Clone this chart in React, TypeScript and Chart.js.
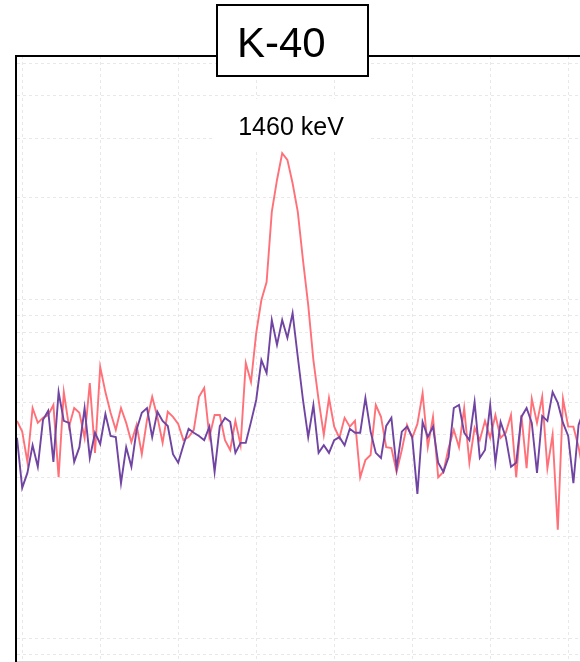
import React, { useEffect, useRef } from 'react';
import { Chart, registerables } from 'chart.js';

Chart.register(...registerables);

// Channel index (x) for each sample
const CHANNELS: number[] = Array.from({ length: 110 }, (_, i) => i);

// Spectrum A (red) – counts per channel
const RED: number[] = [
  44.0, 40.9, 33.3, 48.0, 43.4, 44.9, 45.8, 49.0, 30.0, 53.5,
  42.3, 48.0, 46.5, 39.2, 56.9, 35.4, 63.5, 53.5, 46.5, 41.4,
  48.0, 43.4, 38.1, 42.8, 35.1, 44.3, 51.8, 45.2, 37.9, 46.8,
  45.2, 43.1, 38.6, 39.4, 41.4, 51.8, 55.0, 39.4, 45.8, 45.8,
  38.6, 36.1, 44.0, 37.3, 65.2, 57.3, 79.9, 100, 113, 182,
  226, 271, 259, 221, 182, 131, 96.7, 66.5, 50.7, 40.0,
  51.4, 42.3, 39.2, 44.9, 42.3, 44.0, 30.0, 33.7, 34.9, 49.0,
  45.2, 36.8, 36.6, 31.1, 36.1, 42.8, 39.2, 43.1, 53.1, 36.8,
  45.2, 30.0, 31.1, 36.6, 41.4, 36.8, 48.0, 33.1, 42.0, 38.6,
  44.0, 39.2, 45.8, 39.2, 40.6, 45.8, 30.0, 45.8, 31.9, 51.1,
  43.4, 51.8, 31.9, 40.0, 21.0, 51.1, 42.3, 42.3, 36.8, 30.4,
];

// Spectrum B (purple) – counts per channel
const PURPLE: number[] = [
  39.2, 27.9, 30.9, 37.3, 32.2, 44.3, 47.1, 33.3, 53.5, 44.0,
  43.4, 33.3, 36.8, 48.0, 34.2, 40.6, 37.6, 46.1, 39.7, 39.4,
  28.8, 36.8, 32.2, 41.4, 46.5, 48.0, 39.4, 46.8, 44.0, 42.5,
  35.1, 33.1, 37.3, 41.7, 40.6, 39.7, 38.6, 42.3, 31.1, 42.5,
  44.9, 43.7, 35.4, 37.9, 37.9, 43.7, 50.7, 66.5, 60.9, 87.3,
  73.7, 87.3, 77.3, 91.5, 67.9, 50.7, 39.4, 49.0, 35.4, 37.3,
  35.4, 38.6, 39.4, 37.3, 41.7, 40.6, 40.6, 51.4, 40.9, 35.4,
  34.2, 42.5, 44.9, 31.9, 40.9, 42.3, 39.4, 26.8, 43.7, 39.4,
  42.3, 33.1, 31.1, 34.4, 48.0, 49.0, 40.6, 38.6, 50.0, 34.2,
  36.1, 49.0, 33.1, 43.7, 39.4, 32.2, 33.1, 45.2, 48.0, 43.4,
  30.9, 45.5, 44.0, 53.5, 49.7, 43.4, 39.7, 28.8, 42.8, 47.4,
];

const Y_GRID: number[] = [9, 10, 20, 30, 40, 50, 60, 70, 80, 90, 100, 200, 300, 400, 500];
const X_GRID: number[] = [1, 16, 31, 46, 61, 76, 91, 106];

const TITLE = 'K-40';
const PEAK_LABEL = '1460 keV';

const FONT = "'Liberation Sans', Arial, Helvetica, sans-serif";

const decorPlugin = {
  id: 'decor',
  afterDraw(chart: any) {
    const ctx = chart.ctx;
    const opts = chart.options.plugins.decor;
    ctx.save();
    // frame
    ctx.strokeStyle = '#000';
    ctx.lineWidth = 2;
    ctx.beginPath();
    ctx.moveTo(16, 662);
    ctx.lineTo(16, 56);
    ctx.lineTo(580, 56);
    ctx.stroke();
    // title box
    ctx.fillStyle = '#fff';
    ctx.fillRect(217, 5, 151, 71);
    ctx.strokeRect(217, 5, 151, 71);
    ctx.fillStyle = '#000';
    ctx.font = `42px ${FONT}`;
    ctx.textAlign = 'left';
    ctx.textBaseline = 'alphabetic';
    ctx.fillText(opts.title, 237, 57);
    // peak label
    ctx.fillStyle = '#fff';
    ctx.fillRect(215, 99, 153, 51);
    ctx.fillStyle = '#000';
    ctx.font = `25px ${FONT}`;
    ctx.textAlign = 'center';
    ctx.fillText(opts.label, 291, 135);
    ctx.restore();
  },
};

export default function App() {
  const ref = useRef<HTMLCanvasElement | null>(null);

  useEffect(() => {
    if (!ref.current) return;
    const gridColor = 'rgba(0,0,0,0.09)';
    const chart = new Chart(ref.current, {
      type: 'line',
      data: {
        labels: CHANNELS,
        datasets: [
          {
            label: 'B',
            data: PURPLE,
            borderColor: '#7044a2',
            borderWidth: 1.9,
            pointRadius: 0,
            tension: 0,
            fill: false,
          },
          {
            label: 'A',
            data: RED,
            borderColor: '#ff7078',
            borderWidth: 1.9,
            pointRadius: 0,
            tension: 0,
            fill: false,
          },
        ],
      },
      options: {
        responsive: false,
        animation: false,
        devicePixelRatio: 1,
        layout: { padding: { left: 17, top: 56, right: 0, bottom: 1 } },
        plugins: {
          legend: { display: false },
          tooltip: { enabled: false },
          decor: { title: TITLE, label: PEAK_LABEL },
        } as any,
        scales: {
          x: {
            type: 'linear',
            min: 0,
            max: 108.27,
            afterBuildTicks: (s: any) => {
              s.ticks = X_GRID.map((v) => ({ value: v }));
            },
            ticks: { display: false },
            grid: { color: gridColor, drawTicks: false, lineWidth: 1 },
            border: { display: true, color: 'rgba(0,0,0,0.16)', dash: [3, 3] },
          },
          y: {
            type: 'logarithmic',
            min: 8.61,
            max: 524.6,
            afterBuildTicks: (s: any) => {
              s.ticks = Y_GRID.map((v) => ({ value: v }));
            },
            ticks: { display: false },
            grid: { color: gridColor, drawTicks: false, lineWidth: 1 },
            border: { display: false, dash: [3, 3] },
          },
        },
      },
      plugins: [decorPlugin],
    } as any);
    return () => chart.destroy();
  }, []);

  return (
    <div style={{ position: 'absolute', left: 0, top: 0, width: 580, height: 662, background: '#fff' }}>
      <canvas ref={ref} width={580} height={662} style={{ display: 'block', width: 580, height: 662 }} />
    </div>
  );
}
